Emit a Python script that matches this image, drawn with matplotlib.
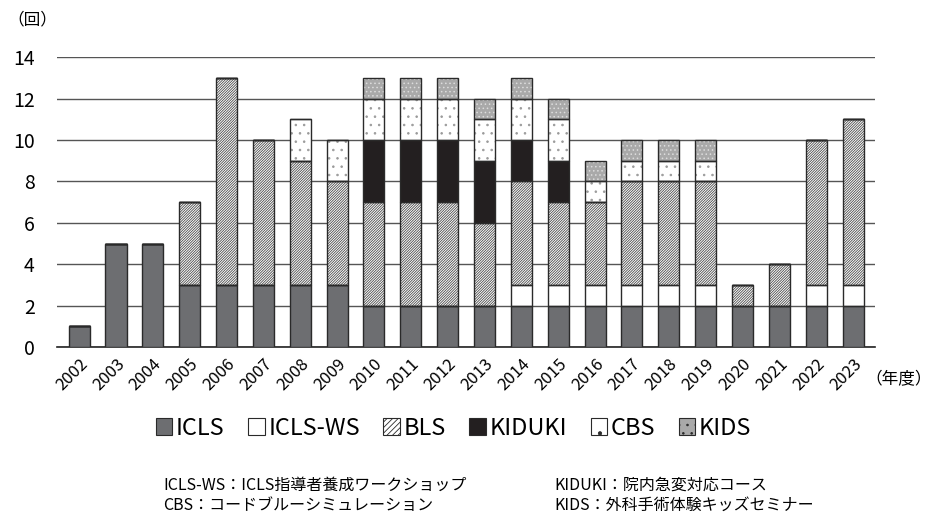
import matplotlib
matplotlib.use("Agg")
import matplotlib.pyplot as plt
from matplotlib.patches import Patch
import numpy as np

plt.rcParams['font.family'] = ['Noto Sans CJK JP', 'DejaVu Sans']
plt.rcParams['hatch.linewidth'] = 0.6

years = [str(y) for y in range(2002, 2024)]
icls    = [1, 5, 5, 3, 3, 3, 3, 3, 2, 2, 2, 2, 2, 2, 2, 2, 2, 2, 2, 2, 2, 2]
icls_ws = [0, 0, 0, 0, 0, 0, 0, 0, 0, 0, 0, 0, 1, 1, 1, 1, 1, 1, 0, 0, 1, 1]
bls     = [0, 0, 0, 4, 10, 7, 6, 5, 5, 5, 5, 4, 5, 4, 4, 5, 5, 5, 1, 2, 7, 8]
kiduki  = [0, 0, 0, 0, 0, 0, 0, 0, 3, 3, 3, 3, 2, 2, 0, 0, 0, 0, 0, 0, 0, 0]
cbs     = [0, 0, 0, 0, 0, 0, 2, 2, 2, 2, 2, 2, 2, 2, 1, 1, 1, 1, 0, 0, 0, 0]
kids    = [0, 0, 0, 0, 0, 0, 0, 0, 1, 1, 1, 1, 1, 1, 1, 1, 1, 1, 0, 0, 0, 0]

series_names = ['ICLS', 'ICLS-WS', 'BLS', 'KIDUKI', 'CBS', 'KIDS']
series_vals = [icls, icls_ws, bls, kiduki, cbs, kids]
# (face, hatch, hatch colour)
styles = [
    ('#6d6e71', None, '#6d6e71'),
    ('#ffffff', None, '#ffffff'),
    ('#ffffff', '/' * 13, '#4a4a4a'),
    ('#231f20', None, '#231f20'),
    ('#ffffff', '..', '#9a9a9a'),
    ('#a9a9a9', '....', '#dcdcdc'),
]

fig = plt.figure(figsize=(9.35, 5.15), dpi=100)
ax = fig.add_axes([0.061, 0.326, 0.875, 0.563])

x = np.arange(len(years))
width = 0.57
bottom = np.zeros(len(years))
for name, vals, (fc, hatch, hc) in zip(series_names, series_vals, styles):
    v = np.array(vals, dtype=float)
    ax.bar(x, v, width, bottom=bottom, color=fc, hatch=hatch, edgecolor=hc,
           linewidth=0, zorder=3)
    ax.bar(x, v, width, bottom=bottom, fill=False, edgecolor='#2a2a2a',
           linewidth=1.0, zorder=4)
    bottom += v

ax.set_ylim(0, 14)
ax.set_xlim(-0.6, len(years) - 0.4)
ax.set_yticks(range(0, 15, 2))
ax.yaxis.grid(True, color='#555555', linewidth=1.0, zorder=0)
ax.set_axisbelow(True)
for s in ['top', 'right', 'left']:
    ax.spines[s].set_visible(False)
ax.spines['bottom'].set_color('#222222')
ax.spines['bottom'].set_linewidth(1.2)
ax.tick_params(axis='both', length=0)
ax.tick_params(axis='y', labelsize=14, pad=16)
ax.set_xticks(x)
ax.set_xticklabels(years, rotation=45, ha='right', rotation_mode='anchor',
                   fontsize=12)
ax.tick_params(axis='x', pad=6)

fig.text(0.008, 0.962, '（回）', fontsize=12, va='center', ha='left')
fig.text(0.997, 0.262, '（年度）', fontsize=12, va='center', ha='right')

handles = [Patch(facecolor=fc, hatch=(h[:max(1, len(h) // 2)] if h else None),
                 edgecolor='#2a2a2a', linewidth=0.8)
           for (fc, h, hc) in styles]
fig.legend(handles, series_names, loc='center', bbox_to_anchor=(0.485, 0.168),
           ncol=6, frameon=False, fontsize=17, handlelength=0.7,
           handleheight=0.7, handletextpad=0.15, columnspacing=1.0)

note_kw = dict(fontsize=11.5, va='center', ha='left')
fig.text(0.175, 0.058, 'ICLS-WS：ICLS指導者養成ワークショップ', **note_kw)
fig.text(0.175, 0.018, 'CBS：コードブルーシミュレーション', **note_kw)
fig.text(0.593, 0.058, 'KIDUKI：院内急変対応コース', **note_kw)
fig.text(0.593, 0.018, 'KIDS：外科手術体験キッズセミナー', **note_kw)

fig.savefig('out.png', dpi=100)
